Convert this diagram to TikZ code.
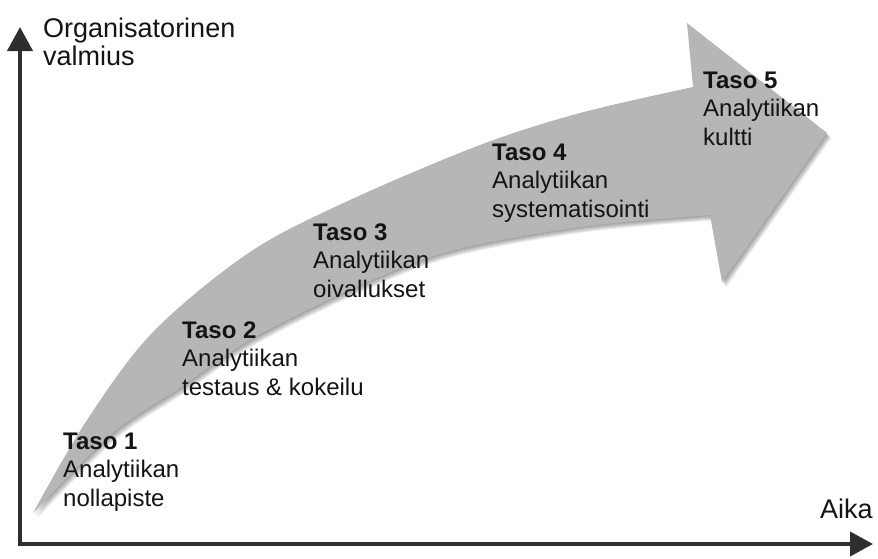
\documentclass[tikz,border=0pt]{standalone}
\usepackage{fontspec}
\setmainfont{Liberation Sans}
\usetikzlibrary{arrows.meta}

\definecolor{bandgray}{HTML}{B6B6B6}
\definecolor{axisgray}{HTML}{2E2E2E}
\definecolor{inkblack}{HTML}{141414}

% Outline of the big curved arrow (tail at lower left, head at upper right)
\newcommand\growtharrow{%
  plot[smooth, tension=0.55] coordinates {(33,513) (87,420) (153,332) (250,252) (350,200) (480,145) (580,113) (693,87)}
  -- (687,23) -- (827,133) -- (722,282)
  -- plot[smooth, tension=0.55] coordinates {(710,215) (580,227) (447,252) (350,290) (250,340) (180,388) (113,433) (33,513)}
  -- cycle}

% multi-line nodes are placed by the baseline of their last line
\tikzset{
  axis/.style={draw=axisgray, line width=4pt, line join=miter,
    {Triangle[length=24pt,width=25pt]}-{Triangle[length=23pt,width=24pt]}},
  axislabel/.style={anchor=base west, inner sep=0pt, text=inkblack, align=left,
    font=\fontsize{27}{28}\selectfont},
  level/.style={anchor=base west, inner sep=0pt, text=inkblack, align=left,
    font=\fontsize{24}{28.2}\selectfont},
}

\begin{document}
\begin{tikzpicture}[x=1pt, y=-1pt]
  \useasboundingbox (0,0) rectangle (878,558);

  % soft shadow under the arrow
  \foreach \s in {1,...,6}{
    \fill[black, opacity=0.07, shift={(0.7*\s,0.9*\s)}] \growtharrow;
  }
  % the arrow itself
  \fill[bandgray] \growtharrow;

  % axes
  \coordinate (ytip) at (20,27);
  \coordinate (origin) at (20,544);
  \coordinate (xtip) at (873,544);
  \draw[axis] (ytip) -- (origin) -- (xtip);

  % axis labels
  \node[axislabel] (ylab) at (43,65) {Organisatorinen\\valmius};
  \node[axislabel] (xlab) at (820,518) {Aika};

  % maturity levels
  \node[level] (l1) at (63,506) {\textbf{Taso 1}\\Analytiikan\\nollapiste};
  \node[level] (l2) at (182,395) {\textbf{Taso 2}\\Analytiikan\\testaus \& kokeilu};
  \node[level] (l3) at (313,297) {\textbf{Taso 3}\\Analytiikan\\oivallukset};
  \node[level] (l4) at (492,217) {\textbf{Taso 4}\\Analytiikan\\systematisointi};
  \node[level] (l5) at (703,145) {\textbf{Taso 5}\\Analytiikan\\kultti};
\end{tikzpicture}
\end{document}
